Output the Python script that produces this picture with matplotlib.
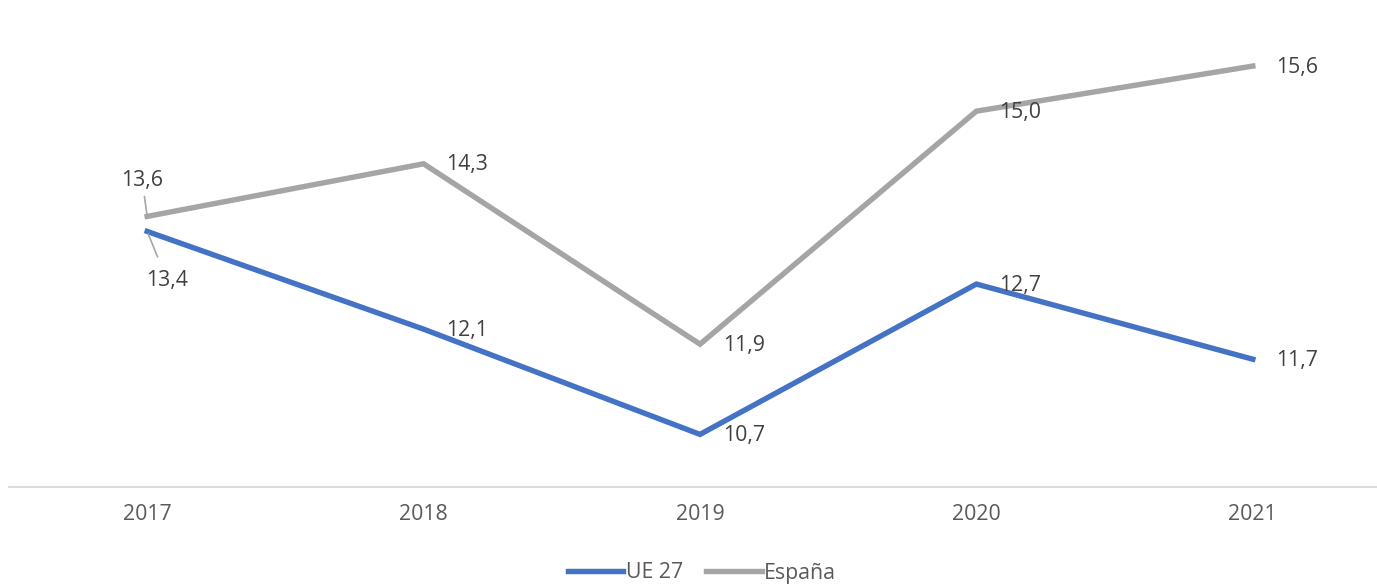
import matplotlib
matplotlib.use("Agg")
import matplotlib.pyplot as plt

years = ["2017", "2018", "2019", "2020", "2021"]
ue27 = [13.4, 12.1, 10.7, 12.7, 11.7]
espana = [13.6, 14.3, 11.9, 15.0, 15.6]
series_names = ["UE 27", "España"]

BLUE = "#4472C4"
GRAY = "#A5A5A5"
TXT = "#404040"
TICK = "#595959"
FS = 15.3

plt.rcParams["font.family"] = ["Open Sans", "DejaVu Sans"]

W, H = 1377, 584
fig = plt.figure(figsize=(W / 100, H / 100), dpi=100)
left_px, right_px, top_px, bot_px = 9, 1391, 36, 487
ax = fig.add_axes([left_px / W, 1 - bot_px / H, (right_px - left_px) / W, (bot_px - top_px) / H])

x = list(range(len(years)))
ax.plot(x, ue27, color=BLUE, lw=3.9, solid_joinstyle="miter", label=series_names[0], zorder=3)
ax.plot(x, espana, color=GRAY, lw=3.9, solid_joinstyle="miter", label=series_names[1], zorder=2)

ax.set_xlim(-0.5, len(years) - 0.5)
ax.set_ylim(10, 16)

for s in ["top", "right", "left"]:
    ax.spines[s].set_visible(False)
ax.spines["bottom"].set_color("#D9D9D9")
ax.spines["bottom"].set_linewidth(1.3)
ax.set_yticks([])
ax.set_xticks(x)
ax.set_xticklabels(years, fontsize=FS, color=TICK)
ax.tick_params(axis="x", length=0, pad=12)

def fmt(v):
    return f"{v:.1f}".replace(".", ",")

# labels to the right of points, except the first pair
for i in range(1, len(years)):
    for vals in (ue27, espana):
        ax.annotate(fmt(vals[i]), (x[i], vals[i]), xytext=(23, -1), textcoords="offset pixels",
                    ha="left", va="center", fontsize=FS, color=TXT, zorder=5)

leader = dict(arrowstyle="-", color="#A6A6A6", lw=1.2, shrinkA=2, shrinkB=2)
ax.annotate(fmt(espana[0]), (x[0], espana[0]), xytext=(-5, 36), textcoords="offset pixels",
            ha="center", va="center", fontsize=FS, color=TXT, arrowprops=leader, zorder=5)
ax.annotate(fmt(ue27[0]), (x[0], ue27[0]), xytext=(20, -49), textcoords="offset pixels",
            ha="center", va="center", fontsize=FS, color=TXT, arrowprops=dict(leader, shrinkA=8), zorder=5)

leg = fig.legend(loc="center", bbox_to_anchor=(702 / W, 1 - 573 / H), ncol=2, frameon=False,
                 fontsize=FS, handlelength=2.6, handletextpad=0.12, columnspacing=1.1,
                 borderpad=0, borderaxespad=0)
for t in leg.get_texts():
    t.set_color(TICK)

fig.savefig("out.png", dpi=100)
